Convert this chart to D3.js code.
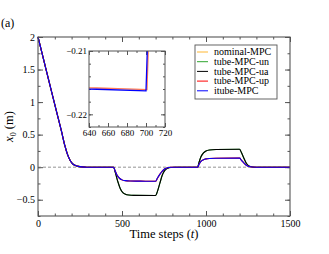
<!DOCTYPE html>
<html>
<head>
<meta charset="utf-8">
<script src="https://cdn.jsdelivr.net/npm/d3@7"></script>
<style>
  body { margin: 0; background: #fff; }
  svg text { font-family: "Liberation Serif", "Times New Roman", Times, serif !important; fill: #000; }
</style>
</head>
<body>
<div id="chart"></div>
<script>
// DATA  (t, x0)
const descent = [[0, 2], [50, 1.48], [100, 0.96], [140, 0.55], [160, 0.33], [175, 0.2],
  [190, 0.11], [205, 0.055], [220, 0.028], [240, 0.012], [260, 0.004], [290, 0], [450, 0]];

// itube-MPC after t = 450
const itubePulses = [[450, 0], [458, -0.05], [470, -0.12], [485, -0.17], [500, -0.195],
  [520, -0.207], [550, -0.212], [600, -0.2145], [640, -0.216], [700, -0.2163],
  [710, -0.17], [725, -0.11], [740, -0.06], [755, -0.025], [770, -0.01], [790, 0],
  [950, 0], [958, 0.04], [970, 0.09], [985, 0.115], [1000, 0.128], [1020, 0.134],
  [1060, 0.137], [1200, 0.139], [1210, 0.11], [1225, 0.065], [1240, 0.03], [1255, 0.01],
  [1275, 0.002], [1300, 0], [1500, 0]];

// tube-MPC-up / nominal-MPC after t = 450
const upPulses = [[450, 0], [458, -0.05], [470, -0.12], [485, -0.17], [500, -0.195],
  [520, -0.207], [550, -0.212], [600, -0.2143], [640, -0.2158], [701, -0.2161],
  [712, -0.165], [725, -0.11], [740, -0.06], [755, -0.025], [770, -0.01], [790, 0],
  [950, 0], [958, 0.04], [970, 0.09], [985, 0.115], [1000, 0.128], [1020, 0.134],
  [1060, 0.137], [1200, 0.139], [1210, 0.11], [1225, 0.065], [1240, 0.03], [1255, 0.01],
  [1275, 0.002], [1300, 0], [1500, 0]];

// tube-MPC-ua / tube-MPC-un after t = 450
const uaPulses = [[450, 0], [460, -0.08], [475, -0.22], [490, -0.33], [505, -0.39],
  [520, -0.415], [540, -0.428], [570, -0.433], [700, -0.435], [710, -0.38], [725, -0.25],
  [740, -0.12], [755, -0.05], [770, -0.02], [790, -0.005], [820, 0],
  [950, 0], [958, 0.07], [970, 0.16], [985, 0.22], [1000, 0.25], [1020, 0.265],
  [1060, 0.272], [1200, 0.276], [1210, 0.23], [1225, 0.14], [1240, 0.06], [1255, 0.02],
  [1275, 0.004], [1300, 0], [1500, 0]];

const seriesNames = ["nominal-MPC", "tube-MPC-un", "tube-MPC-ua", "tube-MPC-up", "itube-MPC"];
const seriesColors = ["#ffb733", "#2fa52f", "#000000", "#ff0000", "#0000ff"];
const seriesTails = [upPulses, uaPulses, uaPulses, upPulses, itubePulses];

const xTicks = [0, 500, 1000, 1500];
const yTicks = [-0.5, 0, 0.5, 1, 1.5, 2];
const insetXTicks = [640, 660, 680, 700, 720];
const insetYTicks = [-0.22, -0.21];

const series = seriesNames.map((name, i) => ({
  name: name,
  color: seriesColors[i],
  values: descent.slice(0, -1).concat(seriesTails[i])
}));

const width = 329, height = 254;
const margin = { top: 37, right: 39, bottom: 38, left: 38 };
const serif = '"Liberation Serif", "Times New Roman", serif';

const svg = d3.select("#chart").append("svg")
  .attr("width", width).attr("height", height);

// SCALES
const x = d3.scaleLinear().domain([0, 1500]).range([margin.left, width - margin.right]);
const y = d3.scaleLinear().domain([-0.75, 2]).range([height - margin.bottom, margin.top]);

const axisColor = "#555";

function styleAxis(g) {
  g.attr("font-family", serif);
  g.select(".domain").remove();
  g.selectAll("line").attr("stroke", axisColor);
}

// AXES (ticks point inward, mirrored on top / right)
const xMinor = d3.range(0, 1501, 100);
const yMinor = d3.range(-0.75, 2.001, 0.25);

svg.append("g").attr("transform", `translate(0,${y.range()[0]})`)
  .call(d3.axisBottom(x).tickValues(xMinor).tickSize(-2.5).tickFormat(""))
  .call(styleAxis);
svg.append("g").attr("transform", `translate(0,${y.range()[0]})`)
  .call(d3.axisBottom(x).tickValues(xTicks).tickSize(-5).tickPadding(4).tickFormat(d3.format("d")))
  .call(styleAxis)
  .attr("font-size", 10);
svg.append("g").attr("transform", `translate(0,${y.range()[1]})`)
  .call(d3.axisTop(x).tickValues(xMinor).tickSize(-2.5).tickFormat(""))
  .call(styleAxis);
svg.append("g").attr("transform", `translate(0,${y.range()[1]})`)
  .call(d3.axisTop(x).tickValues(xTicks).tickSize(-5).tickFormat(""))
  .call(styleAxis);

svg.append("g").attr("transform", `translate(${x.range()[0]},0)`)
  .call(d3.axisLeft(y).tickValues(yMinor).tickSize(-2.5).tickFormat(""))
  .call(styleAxis);
svg.append("g").attr("transform", `translate(${x.range()[0]},0)`)
  .call(d3.axisLeft(y).tickValues(yTicks).tickSize(-5).tickPadding(3).tickFormat(d3.format("")))
  .call(styleAxis)
  .attr("font-size", 10);
svg.append("g").attr("transform", `translate(${x.range()[1]},0)`)
  .call(d3.axisRight(y).tickValues(yMinor).tickSize(-2.5).tickFormat(""))
  .call(styleAxis);
svg.append("g").attr("transform", `translate(${x.range()[1]},0)`)
  .call(d3.axisRight(y).tickValues(yTicks).tickSize(-5).tickFormat(""))
  .call(styleAxis);

// zero line
svg.append("line")
  .attr("x1", x(0)).attr("x2", x(1500))
  .attr("y1", y(0)).attr("y2", y(0))
  .attr("stroke", "#777").attr("stroke-width", 0.8)
  .style("stroke-dasharray", "3, 2");

// lines
const line = d3.line().x((d) => x(d[0])).y((d) => y(d[1])).curve(d3.curveMonotoneX);
svg.selectAll(".series")
  .data(series)
  .join("path")
  .attr("class", "series")
  .attr("fill", "none")
  .attr("stroke", (d) => d.color)
  .attr("stroke-width", 1.1)
  .attr("d", (d) => line(d.values));

// frame
svg.append("rect")
  .attr("x", x.range()[0]).attr("y", y.range()[1])
  .attr("width", x.range()[1] - x.range()[0])
  .attr("height", y.range()[0] - y.range()[1])
  .attr("fill", "none").attr("stroke", axisColor).attr("stroke-width", 1.1);

// labels
svg.append("text")
  .attr("x", (x.range()[0] + x.range()[1]) / 2).attr("y", 238)
  .attr("text-anchor", "middle").attr("font-size", 12.5)
  .attr("font-family", serif)
  .html('Time steps (<tspan font-style="italic">t</tspan>)');

svg.append("text")
  .attr("transform", `translate(13,${(y.range()[0] + y.range()[1]) / 2}) rotate(-90)`)
  .attr("text-anchor", "middle").attr("font-size", 12.5)
  .attr("font-family", serif)
  .html('<tspan font-style="italic">x</tspan><tspan font-size="8" dy="3">0</tspan><tspan dy="-3"> (m)</tspan>');

svg.append("text").attr("x", 1).attr("y", 27).attr("font-size", 12)
  .attr("font-family", serif).text("(a)");

// INSET
const ix = d3.scaleLinear().domain([640, 720]).range([89, 165]);
const iy = d3.scaleLinear().domain([-0.222, -0.21]).range([127, 51]);
const inset = svg.append("g");

inset.append("rect")
  .attr("x", ix.range()[0]).attr("y", iy.range()[1])
  .attr("width", ix.range()[1] - ix.range()[0])
  .attr("height", iy.range()[0] - iy.range()[1])
  .attr("fill", "#fff");

const ixMinor = d3.range(640, 721, 10);
const iyMinor = d3.range(-0.222, -0.2099, 0.002);

inset.append("g").attr("transform", `translate(0,${iy.range()[0]})`)
  .call(d3.axisBottom(ix).tickValues(ixMinor).tickSize(-2).tickFormat(""))
  .call(styleAxis);
inset.append("g").attr("transform", `translate(0,${iy.range()[0]})`)
  .call(d3.axisBottom(ix).tickValues(insetXTicks).tickSize(-4).tickPadding(3).tickFormat(d3.format("d")))
  .call(styleAxis)
  .attr("font-size", 9);
inset.append("g").attr("transform", `translate(0,${iy.range()[1]})`)
  .call(d3.axisTop(ix).tickValues(ixMinor).tickSize(-2).tickFormat(""))
  .call(styleAxis);
inset.append("g").attr("transform", `translate(0,${iy.range()[1]})`)
  .call(d3.axisTop(ix).tickValues(insetXTicks).tickSize(-4).tickFormat(""))
  .call(styleAxis);
inset.append("g").attr("transform", `translate(${ix.range()[0]},0)`)
  .call(d3.axisLeft(iy).tickValues(iyMinor).tickSize(-2).tickFormat(""))
  .call(styleAxis);
inset.append("g").attr("transform", `translate(${ix.range()[0]},0)`)
  .call(d3.axisLeft(iy).tickValues(insetYTicks).tickSize(-4).tickPadding(2).tickFormat(d3.format(".2f")))
  .call(styleAxis)
  .attr("font-size", 9);
inset.append("g").attr("transform", `translate(${ix.range()[1]},0)`)
  .call(d3.axisRight(iy).tickValues(iyMinor).tickSize(-2).tickFormat(""))
  .call(styleAxis);
inset.append("g").attr("transform", `translate(${ix.range()[1]},0)`)
  .call(d3.axisRight(iy).tickValues(insetYTicks).tickSize(-4).tickFormat(""))
  .call(styleAxis);

inset.append("clipPath").attr("id", "inset-clip")
  .append("rect")
  .attr("x", ix.range()[0]).attr("y", iy.range()[1])
  .attr("width", ix.range()[1] - ix.range()[0])
  .attr("height", iy.range()[0] - iy.range()[1]);

const insetLine = d3.line().x((d) => ix(d[0])).y((d) => iy(d[1]));
inset.append("g").attr("clip-path", "url(#inset-clip)")
  .selectAll(".iseries")
  .data(series.filter((d) => d.name !== "tube-MPC-ua" && d.name !== "tube-MPC-un"))
  .join("path")
  .attr("class", "iseries")
  .attr("fill", "none")
  .attr("stroke", (d) => d.color)
  .attr("stroke-opacity", (d) => (d.name === "itube-MPC" ? 1 : 0.45))
  .attr("stroke-width", 1.3)
  .attr("d", (d) => insetLine(d.values.filter((p) => p[0] >= 600 && p[0] <= 730)));

inset.append("rect")
  .attr("x", ix.range()[0]).attr("y", iy.range()[1])
  .attr("width", ix.range()[1] - ix.range()[0])
  .attr("height", iy.range()[0] - iy.range()[1])
  .attr("fill", "none").attr("stroke", axisColor).attr("stroke-width", 1);

// LEGEND
const legend = svg.append("g").attr("transform", "translate(195,45)");
legend.append("rect")
  .attr("width", 82).attr("height", 54)
  .attr("fill", "#fff").attr("stroke", axisColor).attr("stroke-width", 0.9);
const entry = legend.selectAll(".entry")
  .data(series)
  .join("g")
  .attr("class", "entry")
  .attr("transform", (d, i) => `translate(0,${7 + i * 9.7})`);
entry.append("line")
  .attr("x1", 2).attr("x2", 13)
  .attr("stroke", (d) => d.color).attr("stroke-width", 1);
entry.append("text")
  .attr("x", 19).attr("dy", "0.32em")
  .attr("font-size", 10)
  .attr("font-family", serif)
  .text((d) => d.name);
</script>
</body>
</html>
